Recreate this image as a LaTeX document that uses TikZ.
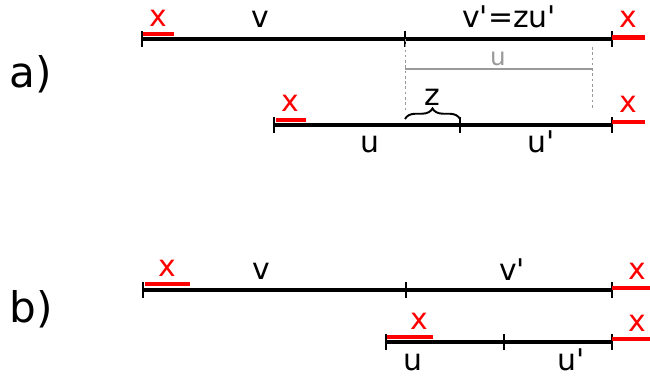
\documentclass[tikz,border=0pt]{standalone}
\usepackage{fontspec}
\newfontfamily\labfont{DejaVu Sans}
\usetikzlibrary{decorations.pathreplacing}
\tikzset{
  seg/.style={line width=1.9pt},
  tick/.style={line width=0.8pt},
  bad/.style={draw=red, line width=2.3pt},
  lab/.style={font=\labfont\fontsize{17}{20}\selectfont, inner sep=0pt,
              anchor=base},
  badlab/.style={lab, text=red},
  part/.style={font=\labfont\fontsize{24}{28}\selectfont, inner sep=0pt,
               anchor=base},
  guide/.style={draw=black!40, line width=0.5pt, dash pattern=on 1.5pt off 1.5pt},
  shadow/.style={draw=black!40, line width=1.4pt},
}

\begin{document}
\begin{tikzpicture}[x=0.02cm, y=-0.02cm]
\useasboundingbox (0,0) rectangle (650,377);

\node[part] (pa) at (31,88) {a)};
\node[part] (pb) at (31,323) {b)};

% a) upper string v v'
\coordinate (av0) at (142,39);
\coordinate (av1) at (405,39);
\coordinate (av2) at (612,39);
\draw[seg] (av0) -- (av2);
\foreach \c in {av0,av1,av2}
  \draw[tick] (\c) ++(0,-8) -- ++(0,16);
\draw[bad] (av0) ++(1,-5) -- ++(31,0);
\draw[bad] (av2) ++(0,-1.5) -- ++(33,0);
\node[badlab] (ax0) at (158,27) {x};
\node[badlab] (ax1) at (628,28) {x};
\node[lab] (alv) at (260,28) {v};
\node[lab] (alvz) at (509,28) {v'=zu'};

% a) shifted copy of u
\coordinate (ag0) at (405,69);
\coordinate (ag1) at (592,69);
\coordinate (ad0) at (405,110);
\coordinate (ad1t) at (592,47);
\coordinate (ad1) at (592,108);
\draw[shadow] (ag0) -- (ag1);
\node[font=\labfont\fontsize{14}{16}\selectfont, text=black!40, inner sep=0pt,
      anchor=base] (alg) at (498,66) {u};
\draw[guide] (av1) -- (ad0);
\draw[guide] (ad1t) -- (ad1);

% a) lower string u u'
\coordinate (au0) at (274,125);
\coordinate (au1) at (460,125);
\coordinate (au2) at (612,125);
\draw[seg] (au0) -- (au2);
\foreach \c in {au0,au1,au2}
  \draw[tick] (\c) ++(0,-8) -- ++(0,16);
\draw[bad] (au0) ++(2,-5) -- ++(30,0);
\draw[bad] (au2) ++(0,-3) -- ++(33,0);
\node[badlab] (ax2) at (290,112) {x};
\node[badlab] (ax3) at (628,113) {x};
\node[lab] (alu) at (370,153) {u};
\node[lab] (alu1) at (541,153) {u'};

\coordinate (az0) at (405,119);
\coordinate (az1) at (460,119);
\draw[decorate, decoration={brace, amplitude=6pt}, line width=1.1pt]
  (az0) -- (az1);
\node[lab] (alz) at (432,106) {z};

% b) upper string v v'
\coordinate (bv0) at (143,290);
\coordinate (bv1) at (406,290);
\coordinate (bv2) at (612,290);
\draw[seg] (bv0) -- (bv2);
\foreach \c in {bv0,bv1,bv2}
  \draw[tick] (\c) ++(0,-8) -- ++(0,16);
\draw[bad] (bv0) ++(2,-6) -- ++(45,0);
\draw[bad] (bv2) ++(0,-2) -- ++(38,0);
\node[badlab] (bx0) at (167,277) {x};
\node[badlab] (bx1) at (637,280) {x};
\node[lab] (blv) at (261,280) {v};
\node[lab] (blv1) at (512,281) {v'};

% b) lower string u u'
\coordinate (bu0) at (386,342);
\coordinate (bu1) at (504,342);
\coordinate (bu2) at (612,342);
\draw[seg] (bu0) -- (bu2);
\foreach \c in {bu0,bu1,bu2}
  \draw[tick] (\c) ++(0,-8) -- ++(0,16);
\draw[bad] (bu0) ++(1,-5) -- ++(46,0);
\draw[bad] (bu2) ++(0,-3) -- ++(38,0);
\node[badlab] (bx2) at (419,330) {x};
\node[badlab] (bx3) at (637,332) {x};
\node[lab] (blu) at (413,371) {u};
\node[lab] (blu1) at (571,371) {u'};

\end{tikzpicture}
\end{document}
